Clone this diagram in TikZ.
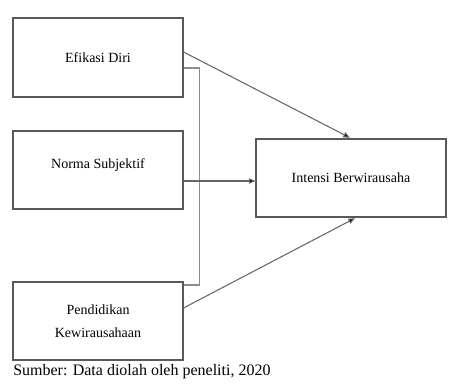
\documentclass[tikz,border=0pt]{standalone}
\usepackage{fontspec}
\setmainfont{Liberation Serif}
\usetikzlibrary{arrows.meta,positioning}

\tikzset{
  varbox/.style={draw=black!65, line width=1.3pt, minimum width=127pt, minimum height=59pt,
    align=center, font=\fontsize{10.5}{12}\selectfont, inner sep=2pt},
  link/.style={draw=black!60, line width=0.8pt, -{Triangle[length=5pt,width=4pt,fill=black]}},
}

\begin{document}
\begin{tikzpicture}[x=0.75pt, y=-0.75pt]
    \useasboundingbox (0,0) rectangle (449,384);

    % Variables
    \node[varbox] (efi) at (98,57.5) {Efikasi Diri};
    \node[varbox, text depth=10pt] (norma) at (98,170) {Norma Subjektif};
    \node[varbox] (pend) at (98,321) {Pendidikan\\[5pt]Kewirausahaan};
    \node[varbox, minimum width=142pt] (int) at (351,178) {Intensi Berwirausaha};

    % Bracket between Efikasi Diri and Pendidikan
    \draw[black!45, line width=0.9pt] (efi.east |- 0,68) -- ++(16,0) |- (pend.east |- 0,285);

    % Paths
    \draw[link] (efi.east |- 0,52) -- (int.north -| 350,0);
    \draw[link] (norma.east |- 0,181) -- (int.west |- 0,181);
    \draw[link] (pend.east |- 0,308) -- (int.south -| 355,0);

    % Source
    \node[anchor=west, font=\fontsize{12}{14}\selectfont, inner sep=0pt] (src) at (13,372) {Sumber: Data diolah oleh peneliti, 2020};
\end{tikzpicture}
\end{document}
